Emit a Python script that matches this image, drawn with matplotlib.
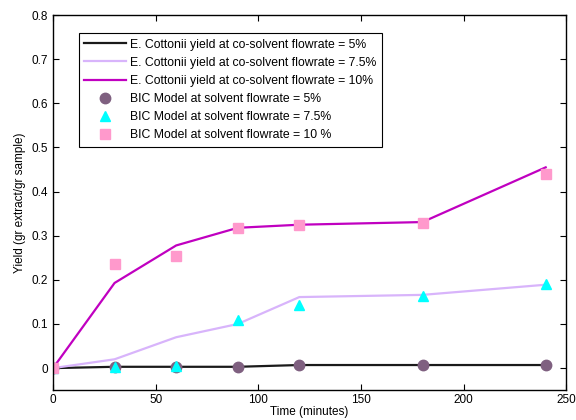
import matplotlib
matplotlib.use("Agg")
import matplotlib.pyplot as plt
import numpy as np

plt.rcParams['font.family'] = ['Liberation Sans', 'DejaVu Sans']

# time points (minutes)
t = [0, 30, 60, 90, 120, 180, 240]

# experimental yield curves
yield_5 = [0.0, 0.003, 0.003, 0.003, 0.007, 0.007, 0.007]
yield_75 = [0.0, 0.02, 0.07, 0.10, 0.161, 0.166, 0.189]
yield_10 = [0.0, 0.193, 0.278, 0.318, 0.325, 0.331, 0.455]

# BIC model points
bic_5 = [0.0, 0.003, 0.003, 0.003, 0.007, 0.007, 0.007]
bic_75 = [0.0, 0.003, 0.005, 0.11, 0.143, 0.163, 0.19]
bic_10 = [0.0, 0.235, 0.255, 0.318, 0.325, 0.33, 0.441]

labels = ["E. Cottonii yield at co-solvent flowrate = 5%",
          "E. Cottonii yield at co-solvent flowrate = 7.5%",
          "E. Cottonii yield at co-solvent flowrate = 10%",
          "BIC Model at solvent flowrate = 5%",
          "BIC Model at solvent flowrate = 7.5%",
          "BIC Model at solvent flowrate = 10 %"]

fig = plt.figure(figsize=(5.76, 4.2), dpi=100)
ax = fig.add_axes([0.092, 0.071, 0.891, 0.893])

ax.plot(t, yield_5, color='#1a1a1a', lw=1.6, label=labels[0])
ax.plot(t, yield_75, color='#d8b4fb', lw=1.6, label=labels[1])
ax.plot(t, yield_10, color='#c000c0', lw=1.6, label=labels[2])
ax.plot(t, bic_5, 'o', color='#7f6080', ms=7.5, ls='none', label=labels[3])
ax.plot(t, bic_75, '^', color='#00ffff', ms=7.5, ls='none', label=labels[4])
ax.plot(t, bic_10, 's', color='#ff99cc', ms=7.5, ls='none', label=labels[5])

ax.set_xlim(0, 250)
ax.set_ylim(-0.05, 0.8)
ax.set_xticks([0, 50, 100, 150, 200, 250])
ax.set_yticks(np.arange(0, 0.81, 0.1))
ax.set_yticklabels(['0', '0.1', '0.2', '0.3', '0.4', '0.5', '0.6', '0.7', '0.8'])
ax.tick_params(direction='in', top=True, right=True, labelsize=8.5, length=4, width=0.8)
ax.tick_params(axis='x', pad=3)
for s in ax.spines.values():
    s.set_linewidth(1.0)

ax.set_xlabel("Time (minutes)", fontsize=8.5, labelpad=0)
ax.set_ylabel("Yield (gr extract/gr sample)", fontsize=8.5)

leg = ax.legend(loc='upper left', bbox_to_anchor=(0.05, 0.952), borderaxespad=0,
                fontsize=8.8, fancybox=False, framealpha=1, edgecolor='black',
                handlelength=3.4, handletextpad=0.35, labelspacing=0.5, borderpad=0.45)
leg.get_frame().set_linewidth(0.8)

fig.savefig("out.png", dpi=100)
